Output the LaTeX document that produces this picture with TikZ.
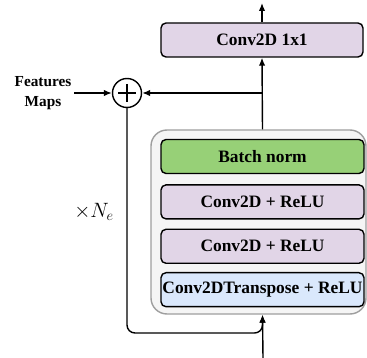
\documentclass[tikz,border=0pt]{standalone}
\usepackage{fontspec}
\setmainfont{Liberation Serif}
\usepackage{amsmath}
\usepackage{xcolor}
\usetikzlibrary{positioning,arrows.meta}

\definecolor{convpurple}{HTML}{E1D5E7}
\definecolor{normgreen}{HTML}{97D077}
\definecolor{tconvblue}{HTML}{DAE8FC}
\definecolor{blockgray}{HTML}{F5F5F5}
\definecolor{blockline}{HTML}{9E9E9E}

\tikzset{
  layer/.style={draw=black, line width=1.4pt, rounded corners=5pt,
    minimum width=203pt, minimum height=34pt, inner sep=0pt,
    font=\fontsize{17.4}{18}\selectfont\bfseries},
  flow/.style={line width=1.4pt, -{Latex[length=8pt,width=6.5pt]}}
}

\begin{document}
\begin{tikzpicture}[x=1pt,y=-1pt]
\useasboundingbox (0,0) rectangle (367,358);
% repeated block
\node [draw=blockline, fill=blockgray, line width=1.4pt, rounded corners=16pt,
  minimum width=215pt, minimum height=184pt] (block) at (258.5,222) {};
\node [layer, fill=normgreen] (norm) at (262.5,156.5) {Batch norm};
\node [layer, fill=convpurple, below=10pt of norm] (conva) {Conv2D + ReLU};
\node [layer, fill=convpurple, below=9pt of conva] (convb) {Conv2D + ReLU};
\node [layer, fill=tconvblue, below=8pt of convb] (tconv) {Conv2DTranspose + ReLU};
% output layer
\node [layer, fill=convpurple, minimum width=202pt] (onebyone) at (262,40) {Conv2D 1x1};
% sum
\node [draw, circle, line width=1.4pt, minimum size=29pt, inner sep=0pt] (plus) at (127,93) {};
\draw [line width=1.4pt] (plus.center) ++(-9,0) -- ++(18,0);
\draw [line width=1.4pt] (plus.center) ++(0,-9) -- ++(0,18);
\node [align=center, font=\fontsize{15.3}{20}\selectfont\bfseries] (feat) at (43,93) {Features\\Maps};
\node [font=\fontsize{22}{24}\selectfont] (reps) at (94,212) {$\times N_e$};
\coordinate (fin) at (74,93);
\coordinate (out) at (262,3);
\coordinate (in) at (263,358);
\coordinate (turn) at (127,333);
% connectors
\draw [flow] (fin) -- (plus.west);
\draw [flow] (onebyone.north) -- (out);
\draw [flow] (tconv.north |- block.north) -- (onebyone.south);
\draw [flow] (onebyone.south |- plus.east) -- (plus.east);
\draw [flow, rounded corners=8pt] (plus.south) -- (turn) -| (tconv.south |- block.south);
\draw [flow] (in) -- (tconv.south |- block.south);
\end{tikzpicture}
\end{document}
